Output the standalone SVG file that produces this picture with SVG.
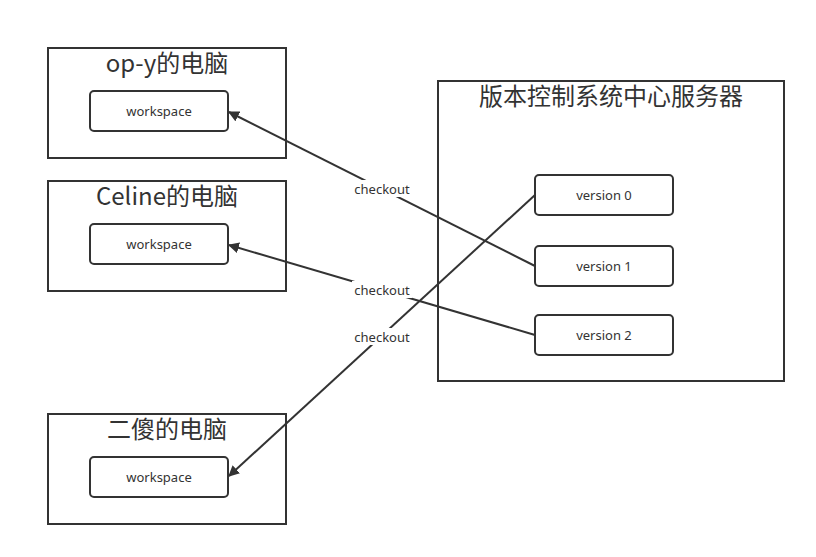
<svg xmlns="http://www.w3.org/2000/svg" width="816" height="557" viewBox="0 0 816 557">
  <style>
    .frame { fill: #ffffff; stroke: #333333; stroke-width: 2; }
    .box { fill: #ffffff; stroke: #333333; stroke-width: 2; }
    .title { font-family: "Noto Sans CJK SC", "Noto Sans", sans-serif; font-size: 24px; fill: #333333; text-anchor: middle; }
    .label { font-family: "Noto Sans", "Noto Sans CJK SC", sans-serif; font-size: 13px; fill: #333333; text-anchor: middle; }
    .edge { fill: none; stroke: #333333; stroke-width: 2; }
    .edge-label-bg { fill: #ffffff; }
  </style>
  <defs>
    <marker id="arrow" viewBox="0 0 10 10" refX="9" refY="5" markerWidth="11" markerHeight="11" markerUnits="userSpaceOnUse" orient="auto">
      <path d="M0,0 L10,5 L0,10 z" fill="#333333"/>
    </marker>
  </defs>
  <rect width="816" height="557" fill="#ffffff"/>

  <g id="pc-opy">
    <rect class="frame" x="48" y="48" width="238" height="110"/>
    <text class="title" x="167" y="72">op-y的电脑</text>
    <rect class="box" x="90" y="91" width="138" height="40" rx="4"/>
    <text class="label" x="159" y="116">workspace</text>
  </g>

  <g id="pc-celine">
    <rect class="frame" x="48" y="181" width="238" height="110"/>
    <text class="title" x="167" y="205">Celine的电脑</text>
    <rect class="box" x="90" y="224" width="138" height="40" rx="4"/>
    <text class="label" x="159" y="249">workspace</text>
  </g>

  <g id="pc-ersha">
    <rect class="frame" x="48" y="414" width="238" height="110"/>
    <text class="title" x="167" y="438">二傻的电脑</text>
    <rect class="box" x="90" y="457" width="138" height="40" rx="4"/>
    <text class="label" x="159" y="482">workspace</text>
  </g>

  <g id="server">
    <rect class="frame" x="438" y="81" width="346" height="300"/>
    <text class="title" x="611" y="105">版本控制系统中心服务器</text>
    <g id="version0">
      <rect class="box" x="535" y="175" width="138" height="40" rx="4"/>
      <text class="label" x="604" y="200">version 0</text>
    </g>
    <g id="version1">
      <rect class="box" x="535" y="246" width="138" height="40" rx="4"/>
      <text class="label" x="604" y="271">version 1</text>
    </g>
    <g id="version2">
      <rect class="box" x="535" y="315" width="138" height="40" rx="4"/>
      <text class="label" x="604" y="340">version 2</text>
    </g>
  </g>

  <g id="connectors">
    <line class="edge" x1="535" y1="266" x2="229" y2="112" marker-end="url(#arrow)"/>
    <line class="edge" x1="535" y1="335" x2="229" y2="245" marker-end="url(#arrow)"/>
    <line class="edge" x1="535" y1="195" x2="229" y2="476" marker-end="url(#arrow)"/>
    <rect class="edge-label-bg" x="352" y="180" width="60" height="17"/>
    <text class="label" x="382" y="194">checkout</text>
    <rect class="edge-label-bg" x="352" y="281" width="60" height="17"/>
    <text class="label" x="382" y="295">checkout</text>
    <rect class="edge-label-bg" x="352" y="328" width="60" height="17"/>
    <text class="label" x="382" y="342">checkout</text>
  </g>
</svg>
